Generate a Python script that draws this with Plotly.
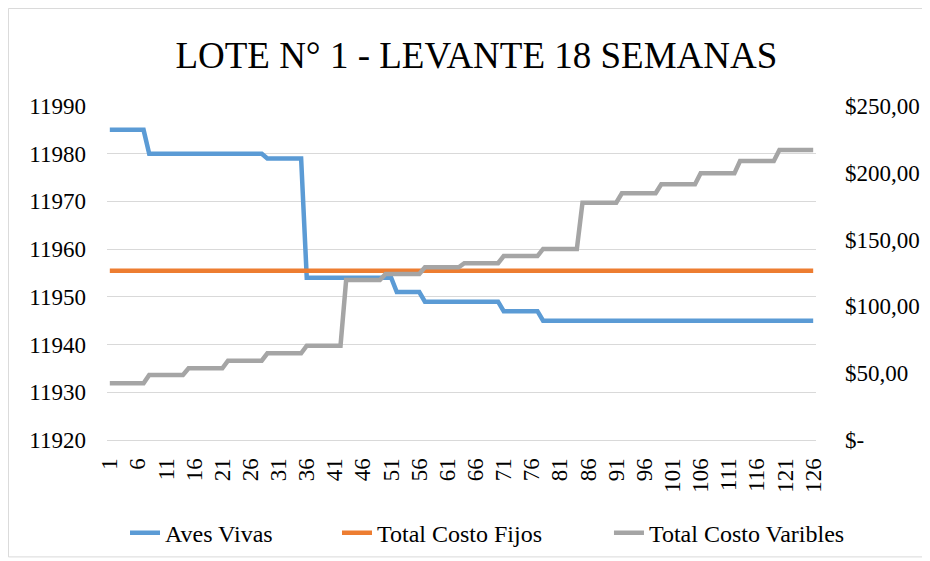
import plotly.graph_objects as go

days = list(range(1, 127))

aves_vivas = (
    [11985] * 7 +
    [11980] * 7 +
    [11980] * 7 +
    [11980] * 7 +
    [11979] * 7 +
    [11954] * 7 +
    [11954] * 7 +
    [11954, 11954, 11951, 11951, 11951, 11951, 11951] +
    [11949] * 7 +
    [11949] * 7 +
    [11947] * 7 +
    [11945] * 7 +
    [11945] * 7 +
    [11945] * 7 +
    [11945] * 7 +
    [11945] * 7 +
    [11945] * 7 +
    [11945] * 7
)

costo_fijo = [126.7] * 126

costo_variable = (
    [42.4] * 7 + [48.7] * 7 + [53.7] * 7 + [59.4] * 7 + [64.9] * 7 + [70.6] * 7 +
    [119.8] * 7 + [124.3] * 7 + [129.3] * 7 + [132.3] * 7 + [137.7] * 7 + [143.0] * 7 +
    [177.6] * 7 + [184.7] * 7 + [191.4] * 7 + [199.6] * 7 + [208.8] * 7 + [217.1] * 7
)

series_names = ["Aves Vivas", "Total Costo Fijos", "Total Costo Varibles"]

x_tickvals = list(range(1, 127, 5))
left_ticks = [11920, 11930, 11940, 11950, 11960, 11970, 11980, 11990]
right_ticks = [0, 50, 100, 150, 200, 250]
right_ticktext = ["$-", "$50,00", "$100,00", "$150,00", "$200,00", "$250,00"]

FONT = "'Liberation Serif', 'Times New Roman', 'DejaVu Serif', serif"

fig = go.Figure()
fig.add_trace(go.Scatter(x=days, y=aves_vivas, name=series_names[0], mode="lines",
                         line=dict(color="#5B9BD5", width=4.5), yaxis="y", legend="legend"))
fig.add_trace(go.Scatter(x=days, y=costo_fijo, name=series_names[1], mode="lines",
                         line=dict(color="#ED7D31", width=4.5), yaxis="y2", legend="legend2"))
fig.add_trace(go.Scatter(x=days, y=costo_variable, name=series_names[2], mode="lines",
                         line=dict(color="#A5A5A5", width=4.5), yaxis="y2", legend="legend3"))

legend_style = dict(orientation="h", xanchor="left", y=-0.279, yanchor="middle",
                    font=dict(family=FONT, size=24), bgcolor="rgba(0,0,0,0)")

fig.update_layout(
    width=922, height=553,
    margin=dict(l=99, r=114, t=98, b=121, autoexpand=False),
    paper_bgcolor="white", plot_bgcolor="white",
    font=dict(family=FONT, size=23, color="#000000"),
    title=dict(text="LOTE N° 1 - LEVANTE 18 SEMANAS", x=0.508, xanchor="center",
               y=1 - 47 / 553, yanchor="middle",
               font=dict(family=FONT, size=37, color="#000000")),
    xaxis=dict(range=[0.5, 126.5], tickmode="array", tickvals=x_tickvals,
               ticktext=[str(v) for v in x_tickvals], tickangle=-90,
               showgrid=False, zeroline=False, showline=True, linecolor="#D9D9D9",
               linewidth=1, ticks="", ticklabelstandoff=8,
               tickfont=dict(family=FONT, size=23)),
    yaxis=dict(range=[11920, 11990], tickmode="array", tickvals=left_ticks,
               ticktext=[str(v) for v in left_ticks],
               showgrid=True, gridcolor="#D9D9D9", gridwidth=1, zeroline=False,
               ticks="", ticklabelstandoff=20, tickfont=dict(family=FONT, size=23)),
    yaxis2=dict(range=[0, 250], overlaying="y", side="right", tickmode="array",
                tickvals=right_ticks, ticktext=right_ticktext, showgrid=False,
                zeroline=False, ticks="", ticklabelstandoff=28,
                tickfont=dict(family=FONT, size=23)),
    legend=dict(x=0.0254, **legend_style),
    legend2=dict(x=0.3244, **legend_style),
    legend3=dict(x=0.708, **legend_style),
    shapes=[dict(type="rect", xref="paper", yref="paper",
                 x0=-0.139, x1=1.1537, y0=-0.350, y1=1.292,
                 line=dict(color="#D9D9D9", width=1), layer="below")],
    showlegend=True,
)

fig.write_html("out.html")
